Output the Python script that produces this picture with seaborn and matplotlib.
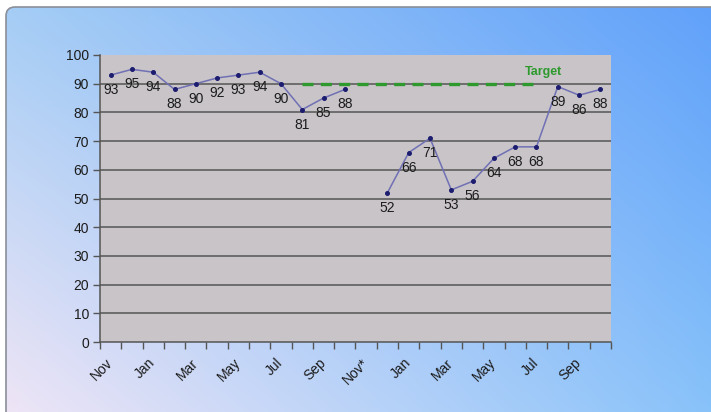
import numpy as np
import pandas as pd
import matplotlib
matplotlib.use("Agg")
import matplotlib.pyplot as plt
import matplotlib.transforms as mtransforms
import seaborn as sns
from matplotlib.patches import FancyBboxPatch

# ---- data -------------------------------------------------------------
months = ["Nov", "Dec", "Jan", "Feb", "Mar", "Apr", "May", "Jun",
          "Jul", "Aug", "Sep", "Oct"]
categories = months + ["Nov*"] + months[1:]
tick_labels = [c for i, c in enumerate(categories) if i % 2 == 0]

values = [93, 95, 94, 88, 90, 92, 93, 94, 90, 81, 85, 88,
          np.nan,
          52, 66, 71, 53, 56, 64, 68, 68, 89, 86, 88]
target_value = 90
target_start, target_end = 9, 20      # Aug .. Jul
target_label = "Target"

# ---- style ------------------------------------------------------------
sns.set_theme(style="white")
plt.rcParams["font.family"] = ["Liberation Sans", "DejaVu Sans"]

W, H = 711, 412
fig = plt.figure(figsize=(W / 100, H / 100), dpi=100)
fig.patch.set_facecolor("white")

# gradient panel with rounded corner
ax_bg = fig.add_axes([0, 0, 1, 1])
ax_bg.set_xlim(0, W)
ax_bg.set_ylim(H, 0)
ax_bg.axis("off")
corners = np.array([
    [[165, 205, 245], [95, 160, 250]],
    [[242, 230, 246], [135, 195, 250]],
]) / 255.0
ny, nx = 200, 300
ty = np.linspace(0, 1, ny)[:, None, None]
tx = np.linspace(0, 1, nx)[None, :, None]
grad = ((1 - ty) * ((1 - tx) * corners[0, 0] + tx * corners[0, 1])
        + ty * ((1 - tx) * corners[1, 0] + tx * corners[1, 1]))
im = ax_bg.imshow(grad, extent=(6, W + 20, H + 20, 7), aspect="auto",
                  interpolation="bilinear")
panel = FancyBboxPatch((6, 7), W + 30, H + 30,
                       boxstyle="round,pad=0,rounding_size=9",
                       facecolor="none", edgecolor="#8a8f98", linewidth=1.2)
ax_bg.add_patch(panel)
im.set_clip_path(panel)

# ---- chart ------------------------------------------------------------
ax = fig.add_axes([100 / W, 1 - 342 / H, 511 / W, 287 / H])
ax.set_facecolor("#c8c4c8")

idx = np.arange(len(categories))
vals = np.array(values, dtype=float)
segment = np.cumsum(np.isnan(vals))
df = pd.DataFrame({"idx": idx, "value": vals, "segment": segment}).dropna()

sns.lineplot(data=df, x="idx", y="value", units="segment", estimator=None,
             color="#7070b4", linewidth=1.1, marker="o", markersize=2.8,
             markerfacecolor="#1c1c70", markeredgecolor="#1c1c70",
             ax=ax, zorder=4)

tdf = pd.DataFrame({"idx": idx[target_start:target_end + 1],
                    "value": [target_value] * (target_end - target_start + 1)})
sns.lineplot(data=tdf, x="idx", y="value", color="#2e9a2e", linewidth=2.4,
             linestyle=(0, (3.3, 2.2)), ax=ax, zorder=3)
ax.text(target_end + 0.35, target_value + 4.2, target_label, color="#2e9a2e",
        fontsize=9, fontweight="bold", ha="center", va="center")

for i, v in zip(df["idx"], df["value"]):
    ax.annotate(f"{v:.0f}", (i, v), xytext=(0, -15), textcoords="offset pixels",
                ha="center", va="center", fontsize=10, color="#1c1c1c",
                zorder=5)

ax.set_xlim(-0.5, len(categories) - 0.5)
ax.set_ylim(0, 100)
ax.set_yticks(np.arange(0, 101, 10))
ax.yaxis.grid(True, color="#5f5f5f", linewidth=1.2)
ax.xaxis.grid(False)
for gl, t in zip(ax.get_ygridlines(), ax.get_yticks()):
    if t >= 100 or t <= 0:
        gl.set_visible(False)

# tick marks between categories, labels on every other category
ax.set_xticks(np.arange(-0.5, len(categories), 1.0))
ax.set_xticklabels([])
ax.set_xticks(np.arange(0, len(categories), 2), minor=True)
ax.set_xticklabels(tick_labels, minor=True, rotation=45, ha="right",
                   rotation_mode="anchor", fontsize=10, color="#1c1c1c")
ax.tick_params(axis="x", which="major", direction="out", length=5,
               width=1, color="#555555", bottom=True)
ax.tick_params(axis="x", which="minor", length=0, pad=10, bottom=True)
ax.tick_params(axis="y", direction="out", length=5, width=1,
               color="#555555", labelsize=10, labelcolor="#1c1c1c", pad=3,
               left=True)

shift = mtransforms.ScaledTranslation(-5 / 100, 0, fig.dpi_scale_trans)
for lbl in ax.get_xticklabels(minor=True):
    lbl.set_transform(lbl.get_transform() + shift)

for s in ["top", "right"]:
    ax.spines[s].set_visible(False)
for s in ["left", "bottom"]:
    ax.spines[s].set_color("#555555")
    ax.spines[s].set_linewidth(1.1)
ax.set_xlabel("")
ax.set_ylabel("")

fig.savefig("out.png", dpi=100)
